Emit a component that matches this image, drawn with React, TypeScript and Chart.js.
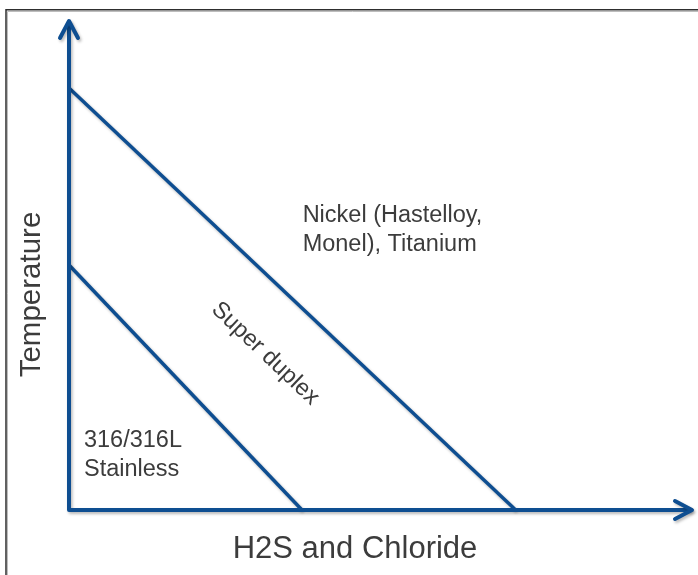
import React, { useEffect, useRef } from "react";
import { Chart, registerables } from "chart.js";

Chart.register(...registerables);

// Boundary lines: x = H2S & chloride level (0..100), y = temperature (0..100)
const superDuplexLimitX = [0, 71.7];
const superDuplexLimitY = [86.3, 0];
const stainlessLimitX = [0, 37.4];
const stainlessLimitY = [50.1, 0];

const xTitle = "H2S and Chloride";
const yTitle = "Temperature";
const nickelLabel = ["Nickel (Hastelloy,", "Monel), Titanium"];
const stainlessLabel = ["316/316L", "Stainless"];
const duplexLabel = "Super duplex";

const BLUE = "#0e4e91";
const TEXT = "#3c3c3c";
const FONT = "'Liberation Sans', Arial, sans-serif";

const toPoints = (xs: number[], ys: number[]) => xs.map((x, i) => ({ x, y: ys[i] }));

const diagramPlugin = {
  id: "diagram",
  beforeDraw(chart: any) {
    const ctx = chart.ctx;
    ctx.save();
    // frame
    ctx.strokeStyle = "#bdbdbd";
    ctx.lineWidth = 1;
    ctx.beginPath();
    ctx.moveTo(7.5, 575);
    ctx.lineTo(7.5, 11.5);
    ctx.lineTo(698, 11.5);
    ctx.stroke();
    ctx.strokeStyle = "#2e2e2e";
    ctx.lineWidth = 1.5;
    ctx.beginPath();
    ctx.moveTo(6, 575);
    ctx.lineTo(6, 9.75);
    ctx.lineTo(698, 9.75);
    ctx.stroke();
    ctx.restore();
  },
  beforeDatasetsDraw(chart: any) {
    const ctx = chart.ctx;
    ctx.save();
    ctx.shadowColor = "rgba(0,0,0,0.28)";
    ctx.shadowBlur = 3;
    ctx.shadowOffsetX = 1.5;
    ctx.shadowOffsetY = 2;
  },
  afterDatasetsDraw(chart: any) {
    const ctx = chart.ctx;
    ctx.restore();
    const xs = chart.scales.x;
    const ys = chart.scales.y;
    const x0 = xs.getPixelForValue(0);
    const y0 = ys.getPixelForValue(0);
    const xEnd = xs.right;
    const yEnd = ys.top;
    ctx.save();
    ctx.shadowColor = "rgba(0,0,0,0.28)";
    ctx.shadowBlur = 3;
    ctx.shadowOffsetX = 1.5;
    ctx.shadowOffsetY = 2;
    ctx.strokeStyle = BLUE;
    ctx.lineWidth = 4;
    ctx.lineCap = "round";
    ctx.lineJoin = "round";
    ctx.beginPath();
    ctx.moveTo(x0, yEnd + 2);
    ctx.lineTo(x0, y0);
    ctx.lineTo(xEnd - 2, y0);
    ctx.stroke();
    // arrow heads
    ctx.beginPath();
    ctx.moveTo(x0 - 9, yEnd + 17);
    ctx.lineTo(x0, yEnd);
    ctx.lineTo(x0 + 9, yEnd + 17);
    ctx.stroke();
    ctx.beginPath();
    ctx.moveTo(xEnd - 17, y0 - 9);
    ctx.lineTo(xEnd, y0);
    ctx.lineTo(xEnd - 17, y0 + 9);
    ctx.stroke();
    ctx.restore();

    // texts
    ctx.save();
    ctx.fillStyle = TEXT;
    ctx.textAlign = "center";
    ctx.textBaseline = "middle";
    ctx.font = `31px ${FONT}`;
    ctx.fillText(xTitle, x0 + 286, y0 + 39);
    ctx.font = `29.5px ${FONT}`;
    ctx.save();
    ctx.translate(x0 - 37, (yEnd + y0) / 2 + 29);
    ctx.rotate(-Math.PI / 2);
    ctx.fillText(yTitle, 0, 0);
    ctx.restore();

    ctx.font = `23.5px ${FONT}`;
    ctx.textAlign = "left";
    const nx = xs.getPixelForValue(37.5);
    const ny = ys.getPixelForValue(60.3);
    nickelLabel.forEach((t, i) => ctx.fillText(t, nx, ny + i * 29));
    const sx = xs.getPixelForValue(2.4);
    const sy = ys.getPixelForValue(14.3);
    stainlessLabel.forEach((t, i) => ctx.fillText(t, sx, sy + i * 29));

    const dx = xs.getPixelForValue(31.5);
    const dy = ys.getPixelForValue(32.0);
    const ang = Math.atan2(
      ys.getPixelForValue(superDuplexLimitY[1]) - ys.getPixelForValue(superDuplexLimitY[0]),
      xs.getPixelForValue(superDuplexLimitX[1]) - xs.getPixelForValue(superDuplexLimitX[0])
    );
    ctx.translate(dx, dy);
    ctx.rotate(ang);
    ctx.textAlign = "center";
    ctx.fillText(duplexLabel, 0, 0);
    ctx.restore();
  },
};

export default function App() {
  const ref = useRef<HTMLCanvasElement | null>(null);
  useEffect(() => {
    if (!ref.current) return;
    const chart = new Chart(ref.current, {
      type: "scatter",
      data: {
        datasets: [
          {
            label: "Super duplex limit",
            data: toPoints(superDuplexLimitX, superDuplexLimitY),
            showLine: true,
            borderColor: BLUE,
            borderWidth: 3.5,
            pointRadius: 0,
            clip: false,
          } as any,
          {
            label: "316/316L limit",
            data: toPoints(stainlessLimitX, stainlessLimitY),
            showLine: true,
            borderColor: BLUE,
            borderWidth: 3.5,
            pointRadius: 0,
            clip: false,
          } as any,
        ],
      },
      options: {
        animation: false,
        responsive: false,
        devicePixelRatio: 1,
        layout: { padding: { left: 69, top: 21, right: 6, bottom: 65 } },
        plugins: { legend: { display: false }, tooltip: { enabled: false } },
        scales: {
          x: { type: "linear", min: 0, max: 100, display: false },
          y: { type: "linear", min: 0, max: 100, display: false },
        },
      },
      plugins: [diagramPlugin],
    });
    return () => chart.destroy();
  }, []);
  return (
    <div style={{ position: "fixed", left: 0, top: 0, width: 698, height: 575, background: "#fff" }}>
      <canvas ref={ref} width={698} height={575} style={{ display: "block" }} />
    </div>
  );
}
